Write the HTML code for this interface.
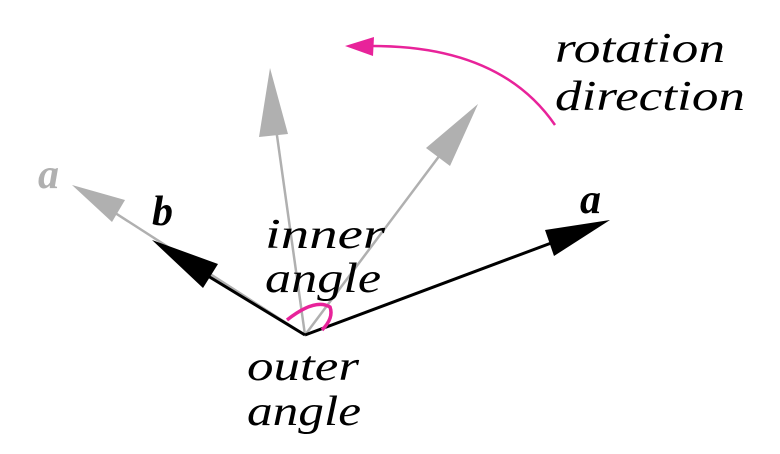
<!DOCTYPE html>
<html><head><meta charset="utf-8"><style>
html,body{margin:0;padding:0;background:#fff;width:780px;height:454px;overflow:hidden}
text{font-family:"Liberation Serif",serif;font-style:italic;font-size:42px;fill:#000}
</style></head><body>
<svg width="780" height="454" viewBox="0 0 780 454">
<g stroke="#b0b0b0" stroke-width="2.5">
<line x1="305" y1="335" x2="95" y2="200"/>
<polygon points="72,185 125,200 112,222" fill="#b0b0b0" stroke="none"/>
<line x1="305" y1="335" x2="272" y2="100"/>
<polygon points="270,68 259,137 288,134" fill="#b0b0b0" stroke="none"/>
<line x1="305" y1="335" x2="455" y2="135"/>
<polygon points="478,104 426,148 450,166" fill="#b0b0b0" stroke="none"/>
</g>
<g>
<line x1="305" y1="335" x2="185" y2="262" stroke="#000" stroke-width="3"/>
<polygon points="152,240 218,264 203,288" fill="#000"/>
</g>
<g>
<line x1="305" y1="335" x2="570" y2="236" stroke="#000" stroke-width="3"/>
<polygon points="610,220 545,230 554,256" fill="#000"/>
</g>
<path d="M287,320 Q315,298 330,307 Q334,318 322,330" fill="none" stroke="#e8239a" stroke-width="3.5"/>
<path d="M555,125 Q500,45 370,46" fill="none" stroke="#e8239a" stroke-width="2.5"/>
<polygon points="345,46 374,37 373,56" fill="#e8239a"/>
<text x="38" y="188" textLength="24" style="fill:#b0b0b0;font-weight:bold">a</text>
<text x="152" y="225" textLength="24" style="font-weight:bold">b</text>
<text x="580" y="213" textLength="26" style="font-weight:bold">a</text>
<text x="265" y="248" textLength="120" lengthAdjust="spacingAndGlyphs">inner</text>
<text x="265" y="292" textLength="116" lengthAdjust="spacingAndGlyphs">angle</text>
<text x="247" y="380" textLength="112" lengthAdjust="spacingAndGlyphs">outer</text>
<text x="247" y="425" textLength="114" lengthAdjust="spacingAndGlyphs">angle</text>
<text x="555" y="62" textLength="170" lengthAdjust="spacingAndGlyphs">rotation</text>
<text x="555" y="110" textLength="190" lengthAdjust="spacingAndGlyphs">direction</text>
</svg>
</body></html>
